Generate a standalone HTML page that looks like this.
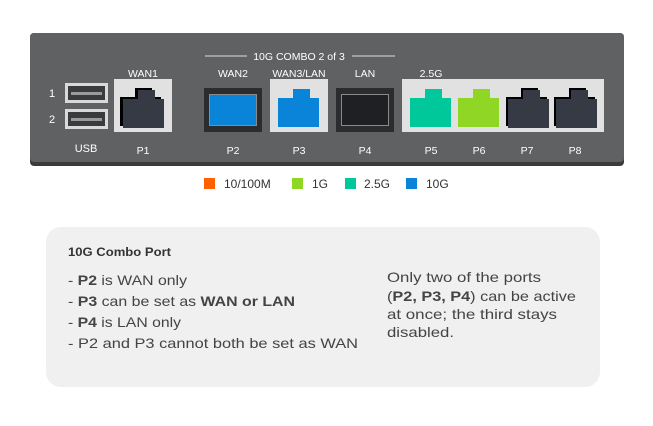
<!DOCTYPE html>
<html><head><meta charset="utf-8"><style>
html,body{margin:0;padding:0;background:#fff;}
svg{display:block;font-family:"Liberation Sans",sans-serif;}
</style></head><body>
<svg width="653" height="426" viewBox="0 0 653 426" xmlns="http://www.w3.org/2000/svg">
<defs>
<g id="jk"><path d="M0,9 H15 V0 H32 V9 H41 V38 H0 Z"/></g>
</defs>
<rect x="30" y="33" width="594" height="133" rx="4" fill="#3a3b3c"/>
<rect x="30" y="33" width="594" height="129" rx="4" fill="#5f6162"/>
<g fill="#fff" font-size="11">
<text x="52" y="97" text-anchor="middle">1</text>
<text x="52" y="123" text-anchor="middle">2</text>
<text x="86" y="152" text-anchor="middle">USB</text>
</g>
<rect x="65" y="83" width="43" height="20" fill="#d9d9d9"/>
<rect x="68" y="86" width="37" height="14" fill="#3a3b3e"/>
<rect x="71" y="92" width="31" height="3" fill="#9a9a9a"/>
<rect x="65" y="109" width="43" height="20" fill="#d9d9d9"/>
<rect x="68" y="112" width="37" height="14" fill="#3a3b3e"/>
<rect x="71" y="118" width="31" height="3" fill="#9a9a9a"/>
<line x1="205" y1="56" x2="247" y2="56" stroke="#ddd" stroke-width="1"/>
<line x1="352" y1="56" x2="395" y2="56" stroke="#ddd" stroke-width="1"/>
<text x="299" y="60" fill="#fff" font-size="10.5" text-anchor="middle">10G COMBO 2 of 3</text>
<g fill="#fff" font-size="10.5" text-anchor="middle">
<text x="143" y="77">WAN1</text>
<text x="233" y="77">WAN2</text>
<text x="299" y="77">WAN3/LAN</text>
<text x="365" y="77">LAN</text>
<text x="431" y="77">2.5G</text>
<text x="143" y="154">P1</text>
<text x="233" y="154">P2</text>
<text x="299" y="154">P3</text>
<text x="365" y="154">P4</text>
<text x="431" y="154">P5</text>
<text x="479" y="154">P6</text>
<text x="527" y="154">P7</text>
<text x="575" y="154">P8</text>
</g>
<rect x="114" y="79" width="58" height="53" fill="#e1e1e1"/>
<use href="#jk" x="120" y="88" fill="#000"/>
<use href="#jk" x="123" y="90" fill="#363a45"/>
<rect x="204" y="88" width="58" height="44" fill="#2b2c2e"/>
<rect x="209" y="94" width="48" height="32" fill="#8a8a8a"/>
<rect x="210" y="95" width="46" height="30" fill="#0a84d8"/>
<rect x="270" y="79" width="58" height="53" fill="#e1e1e1"/>
<use href="#jk" x="278" y="89" fill="#0a84d8"/>
<rect x="336" y="88" width="58" height="44" fill="#2b2c2e"/>
<rect x="341" y="94" width="48" height="32" fill="#8a8a8a"/>
<rect x="342" y="95" width="46" height="30" fill="#1e2024"/>
<rect x="402" y="79" width="202" height="53" fill="#e1e1e1"/>
<use href="#jk" x="410" y="89" fill="#00c89a"/>
<use href="#jk" x="458" y="89" fill="#8fd625"/>
<use href="#jk" x="506" y="88" fill="#000"/>
<use href="#jk" x="508" y="90" fill="#363a45"/>
<use href="#jk" x="554" y="88" fill="#000"/>
<use href="#jk" x="556" y="90" fill="#363a45"/>
<g font-size="12" fill="#333">
<rect x="204" y="178" width="11" height="11" fill="#ff6000"/><text x="224" y="188">10/100M</text>
<rect x="292" y="178" width="11" height="11" fill="#8fd625"/><text x="312" y="188">1G</text>
<rect x="345" y="178" width="11" height="11" fill="#00c89a"/><text x="364" y="188">2.5G</text>
<rect x="406" y="178" width="11" height="11" fill="#0a84d8"/><text x="426" y="188">10G</text>
</g>
<rect x="46" y="227" width="554" height="160" rx="15" fill="#f0f0f0"/>
<g fill="#444" font-size="14">
<text x="68" y="256" font-size="11.5" font-weight="bold" fill="#333" textLength="103" lengthAdjust="spacingAndGlyphs">10G Combo Port</text>
<text x="68" y="285" textLength="119" lengthAdjust="spacingAndGlyphs">- <tspan font-weight="bold">P2</tspan> is WAN only</text>
<text x="68" y="306" textLength="227" lengthAdjust="spacingAndGlyphs">- <tspan font-weight="bold">P3</tspan> can be set as <tspan font-weight="bold">WAN or LAN</tspan></text>
<text x="68" y="327" textLength="113" lengthAdjust="spacingAndGlyphs">- <tspan font-weight="bold">P4</tspan> is LAN only</text>
<text x="68" y="348" textLength="290" lengthAdjust="spacingAndGlyphs">- P2 and P3 cannot both be set as WAN</text>
<text x="387" y="282" textLength="154" lengthAdjust="spacingAndGlyphs">Only two of the ports</text>
<text x="387" y="301" textLength="189" lengthAdjust="spacingAndGlyphs">(<tspan font-weight="bold">P2, P3, P4</tspan>) can be active</text>
<text x="387" y="319" textLength="170" lengthAdjust="spacingAndGlyphs">at once; the third stays</text>
<text x="387" y="337" textLength="67" lengthAdjust="spacingAndGlyphs">disabled.</text>
</g>
</svg>
</body></html>
